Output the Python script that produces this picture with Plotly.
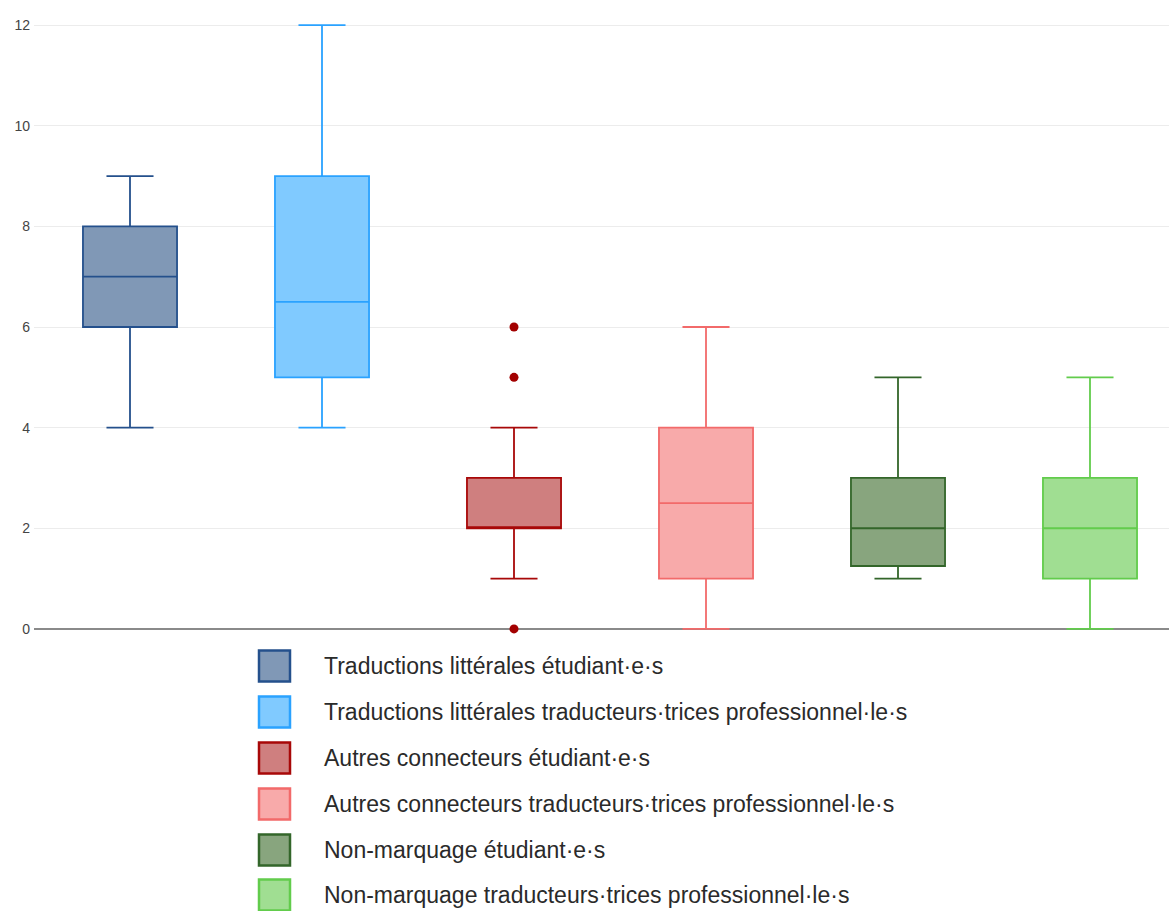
import plotly.graph_objects as go

# Box statistics per group
groups = [
    "Traductions littérales étudiant·e·s",
    "Traductions littérales traducteurs·trices professionnel·le·s",
    "Autres connecteurs étudiant·e·s",
    "Autres connecteurs traducteurs·trices professionnel·le·s",
    "Non-marquage étudiant·e·s",
    "Non-marquage traducteurs·trices professionnel·le·s",
]
lower = [4, 4, 1, 0, 1, 0]
q1 = [6, 5, 2, 1, 1.25, 1]
median = [7, 6.5, 2, 2.5, 2, 2]
q3 = [8, 9, 3, 4, 3, 3]
upper = [9, 12, 4, 6, 5, 5]

# Outliers (only the third group has any)
outlier_group = groups[2]
outlier_values = [6, 5, 0]

line_colors = ["#24508c", "#2aa2ff", "#a80808", "#f26a6a", "#33662a", "#62cc4c"]
fill_colors = ["#8098b6", "#80caff", "#cf7f7f", "#f8aaaa", "#88a57e", "#a0de92"]

W, H = 1169, 911
ML, MR, MT, MB = 34, 0, 10, 267

fig = go.Figure()
for i, g in enumerate(groups):
    fig.add_trace(go.Box(
        x=[g], q1=[q1[i]], median=[median[i]], q3=[q3[i]],
        lowerfence=[lower[i]], upperfence=[upper[i]],
        name=g, width=0.49, whiskerwidth=0.5,
        line=dict(color=line_colors[i], width=1.8),
        fillcolor=fill_colors[i], boxpoints=False, showlegend=False,
    ))

fig.add_trace(go.Scatter(
    x=[outlier_group] * len(outlier_values), y=outlier_values,
    mode="markers", marker=dict(color="#a30000", size=9),
    showlegend=False, cliponaxis=False, hoverinfo="y",
))

# Legend drawn as squares and labels below the plot
pw = W - ML - MR
ph = H - MT - MB


def px_x(p):
    return (p - ML) / pw


def px_y(p):
    return (H - MB - p) / ph


row_centers = [666, 712, 758, 804, 850, 895]
shapes = []
annotations = []
for i, g in enumerate(groups):
    cy = row_centers[i]
    shapes.append(dict(
        type="rect", xref="paper", yref="paper",
        x0=px_x(259), x1=px_x(290), y0=px_y(cy + 15.5), y1=px_y(cy - 15.5),
        fillcolor=fill_colors[i], line=dict(color=line_colors[i], width=2.5),
    ))
    annotations.append(dict(
        xref="paper", yref="paper", x=px_x(322), y=px_y(cy),
        xanchor="left", yanchor="middle", text=g, showarrow=False,
        font=dict(family="Liberation Sans, Arial, sans-serif", size=23, color="#2a2a2a"),
    ))

fig.update_layout(
    width=W, height=H,
    margin=dict(l=ML, r=MR, t=MT, b=MB),
    paper_bgcolor="white", plot_bgcolor="white",
    shapes=shapes, annotations=annotations,
    showlegend=False,
)
fig.update_xaxes(
    type="category", categoryorder="array", categoryarray=groups,
    range=[-0.5, -0.5 + pw / 192.0],
    showticklabels=False, showgrid=False, zeroline=False, showline=False,
)
fig.update_yaxes(
    range=[-0.3, 12.3], tickvals=[0, 2, 4, 6, 8, 10, 12],
    showgrid=True, gridcolor="#ececec", gridwidth=1,
    zeroline=True, zerolinecolor="#8a8a8a", zerolinewidth=2,
    showline=False, ticks="", ticklabelstandoff=3,
    tickfont=dict(family="Liberation Sans, Arial, sans-serif", size=14, color="#444"),
)

fig.write_html("out.html")
